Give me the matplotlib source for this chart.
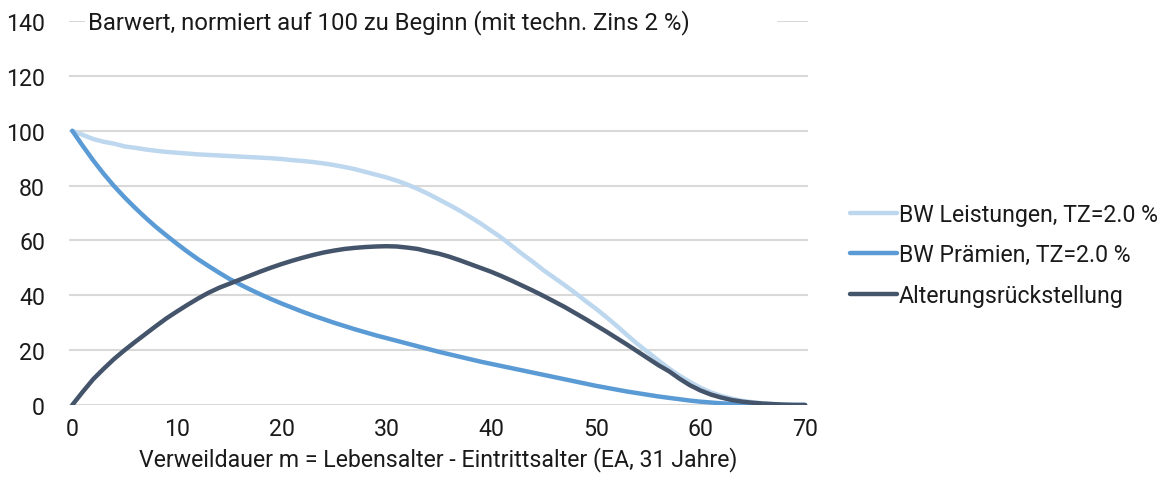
import matplotlib
matplotlib.use('Agg')
import matplotlib.pyplot as plt
import numpy as np
from matplotlib.patches import Rectangle

plt.rcParams['font.family'] = ['Roboto', 'DejaVu Sans']

# Verweildauer m (Jahre)
jahre = list(range(0, 71))

# BW Leistungen, TZ=2.0 %
bw_leistungen = [100.0, 98.5, 97.0, 96.0, 95.3, 94.3, 93.8, 93.2, 92.7, 92.3,
                 92.0, 91.7, 91.4, 91.2, 91.0, 90.8, 90.6, 90.4, 90.2, 90.0,
                 89.7, 89.3, 89.0, 88.6, 88.1, 87.5, 86.8, 86.0, 85.0, 84.0,
                 83.0, 81.8, 80.4, 78.8, 77.0, 75.0, 73.0, 70.9, 68.6, 66.2,
                 63.6, 61.0, 58.0, 55.0, 52.2, 49.2, 46.5, 43.8, 41.0, 38.0,
                 35.2, 32.1, 28.9, 25.5, 22.2, 19.2, 16.2, 13.3, 10.7, 8.4,
                 6.3, 4.6, 3.3, 2.3, 1.5, 1.0, 0.6, 0.3, 0.1, 0.0, 0.0]

# BW Praemien, TZ=2.0 %
bw_praemien = [100.0, 94.5, 89.2, 84.3, 79.8, 75.7, 71.9, 68.3, 64.9, 61.8,
               58.8, 55.9, 53.2, 50.7, 48.3, 46.0, 44.0, 42.1, 40.3, 38.6,
               37.0, 35.5, 34.0, 32.6, 31.3, 30.0, 28.8, 27.6, 26.5, 25.4,
               24.4, 23.4, 22.4, 21.4, 20.4, 19.4, 18.5, 17.6, 16.7, 15.8,
               15.0, 14.2, 13.4, 12.6, 11.8, 11.0, 10.2, 9.4, 8.6, 7.8,
               7.0, 6.3, 5.6, 4.9, 4.3, 3.7, 3.1, 2.6, 2.1, 1.6,
               1.2, 0.9, 0.6, 0.4, 0.25, 0.15, 0.1, 0.05, 0.0, 0.0, 0.0]

# Alterungsrueckstellung
alterungsrueck = [0.0, 4.8, 9.4, 13.2, 16.8, 20.0, 23.0, 25.9, 28.8, 31.6,
                  34.1, 36.5, 38.8, 40.9, 42.7, 44.2, 45.7, 47.2, 48.7, 50.1,
                  51.4, 52.6, 53.7, 54.7, 55.6, 56.3, 56.9, 57.3, 57.6, 57.8,
                  57.9, 57.8, 57.4, 56.9, 56.0, 55.2, 54.1, 52.8, 51.4, 50.0,
                  48.6, 47.0, 45.3, 43.5, 41.7, 39.8, 37.8, 35.8, 33.6, 31.4,
                  29.1, 26.8, 24.4, 22.0, 19.5, 17.0, 14.5, 12.3, 9.6, 7.2,
                  5.3, 3.8, 2.7, 1.8, 1.2, 0.8, 0.5, 0.3, 0.1, 0.0, 0.0]

labels = ['BW Leistungen, TZ=2.0 %', 'BW Prämien, TZ=2.0 %', 'Alterungsrückstellung']
farben = ['#bdd7ee', '#5b9bd5', '#44546a']
titel = 'Barwert, normiert auf 100 zu Beginn (mit techn. Zins 2 %)'
fs = 16.7

fig = plt.figure(figsize=(11.73, 4.81), dpi=100)
ax = fig.add_axes([0.0585, 0.156, 0.6305, 0.798])

for serie, lab, c in zip([bw_leistungen, bw_praemien, alterungsrueck], labels, farben):
    ax.plot(jahre, serie, color=c, lw=3.2, label=lab, solid_capstyle='round', zorder=3)

ax.set_xlim(-0.35, 70.3)
ax.set_ylim(0, 140)
ax.set_xticks(range(0, 71, 10))
ax.set_yticks(range(0, 141, 20))
ax.grid(axis='y', color='#d9d9d9', lw=1.5, zorder=0)
ax.set_axisbelow(True)
for s in ax.spines.values():
    s.set_visible(False)
ax.tick_params(length=0, labelsize=fs, colors='#1a1a1a', pad=9)
ax.tick_params(axis='y', pad=17)

ax.set_xlabel('Verweildauer m = Lebensalter - Eintrittsalter (EA, 31 Jahre)',
              fontsize=fs, color='#1a1a1a', labelpad=4)

# weisser Hintergrund fuer den Titel im Diagramm
ax.add_patch(Rectangle((0.022, 0.955), 0.936, 0.09, transform=ax.transAxes,
                       facecolor='white', edgecolor='none', zorder=1, clip_on=False))
ax.text(0.0265, 1.0, titel, transform=ax.transAxes, fontsize=17.2, color='#1a1a1a',
        va='center', ha='left', zorder=2)

fig.legend(loc='center left', bbox_to_anchor=(0.707, 0.468), frameon=False,
           fontsize=fs, handlelength=2.0, handletextpad=0.1, labelspacing=0.75,
           labelcolor='#1a1a1a')

fig.savefig('out.png', dpi=100)
